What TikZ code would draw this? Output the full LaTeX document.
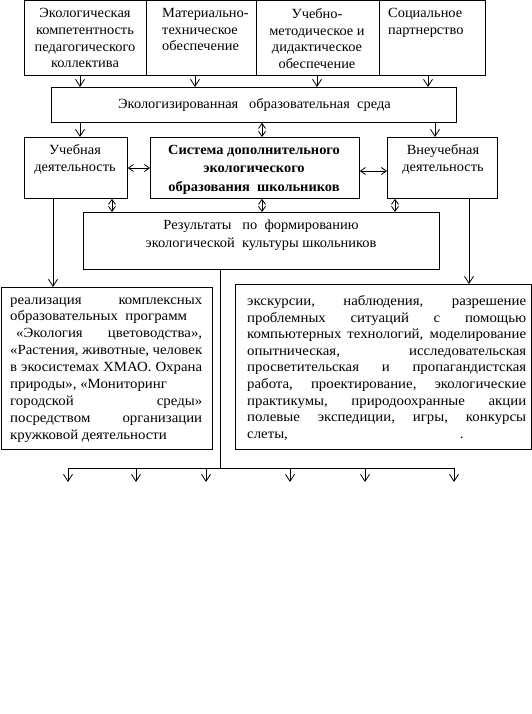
\documentclass[tikz,border=0pt]{standalone}
\usepackage{fontspec}
\setmainfont[FakeStretch=1.03]{Liberation Serif}
\newfontfamily\widefont[FakeStretch=1.06]{Liberation Serif}
\usetikzlibrary{arrows.meta}
\tikzset{
  box/.style={draw, line width=0.8pt, inner sep=0pt, anchor=north west},
  txt/.style={inner sep=0pt, font=\fontsize{14}{16.8}\selectfont},
  bline/.style={inner sep=0pt, anchor=base west, font=\widefont\fontsize{14}{16.8}\selectfont},
  arr/.style={line width=0.8pt, -{Straight Barb[length=7pt,width=9pt,line width=0.8pt]}},
  barr/.style={line width=0.8pt, {Straight Barb[length=5pt,width=7pt,line width=0.8pt]}-{Straight Barb[length=5pt,width=7pt,line width=0.8pt]}},
  ln/.style={line width=0.8pt}
}
\begin{document}
\begin{tikzpicture}[x=1pt,y=-1pt]
\useasboundingbox (0,0) rectangle (532,714);
% top row
\node[box, minimum width=122pt, minimum height=74.5pt] (t1) at (24,0.5) {};
\node[box, minimum width=110pt, minimum height=74.5pt] (t2) at (146,0.5) {};
\node[box, minimum width=123pt, minimum height=74.5pt] (t3) at (256,0.5) {};
\node[box, minimum width=106pt, minimum height=74.5pt] (t4) at (379,0.5) {};
\node[txt, align=center, anchor=north] (t1t) at (85,8) {Экологическая\\компетентность\\педагогического\\коллектива};
\node[txt, align=left, anchor=north west] (t2t) at (162,8) {Материально-\\техническое\\обеспечение};
\node[txt, align=center, anchor=north] (t3t) at (317,8) {Учебно-\\методическое и\\дидактическое\\обеспечение};
\node[txt, align=left, anchor=north west] (t4t) at (388,8) {Социальное\\партнерство};
% environment
\node[box, minimum width=405pt, minimum height=35pt] (env) at (51,87) {};
\node[txt] (envt) at (254.5,105) {Экологизированная \ \ образовательная \ среда};
% row 2
\node[box, minimum width=103pt, minimum height=61pt] (uch) at (24,137) {};
\node[box, minimum width=209pt, minimum height=61pt] (sys) at (150,137) {};
\node[box, minimum width=110pt, minimum height=61pt] (vne) at (387,137) {};
\node[txt, align=center, anchor=north] (ucht) at (75,144) {Учебная\\деятельность};
\node[txt, align=center, anchor=north, font=\fontsize{14}{18.5}\selectfont\bfseries] (syst) at (254,145) {Система дополнительного\\экологического\\образования \ школьников};
\node[txt, align=center, anchor=north] (vnet) at (443,144) {Внеучебная\\деятельность};
% results
\node[box, minimum width=356pt, minimum height=57pt] (rez) at (83,212) {};
\node[txt, align=center, anchor=north, font=\fontsize{14}{18}\selectfont] (rezt) at (261,220) {Результаты \ \ по \ формированию\\экологической \ культуры школьников};
% bottom boxes
\node[box, minimum width=211.5pt, minimum height=162pt] (lb) at (0.5,287) {};
\node[box, minimum width=296pt, minimum height=165pt] (rb) at (235,284) {};
\foreach \l [count=\i] in {%
  {реализация\hfill комплексных},
  {образовательных \ программ\hfill},
  {\hspace*{6pt}«Экология\hfill цветоводства»,},
  {«Растения, животные, человек},
  {в экосистемах ХМАО. Охрана},
  {природы», «Мониторинг\hfill},
  {городской\hfill среды»},
  {посредством\hfill организации},
  {кружковой деятельности\hfill}}{
  \node[bline] (lbl\i) at (10,{304+16.9*(\i-1)}) {\hbox to 192pt{\l}};
}
\foreach \l [count=\i] in {%
  {экскурсии,\hfill наблюдения,\hfill разрешение},
  {проблемных\hfill ситуаций\hfill с\hfill помощью},
  {компьютерных технологий, моделирование},
  {опытническая,\hfill исследовательская},
  {просветительская\hfill и\hfill пропагандистская},
  {работа,\hfill проектирование,\hfill экологические},
  {практикумы,\hfill природоохранные\hfill акции},
  {полевые\hfill экспедиции,\hfill игры,\hfill конкурсы},
  {слеты,\hspace*{172pt}.\hfill}}{
  \node[bline] (rbl\i) at (247,{305.5+16.6*(\i-1)}) {\hbox to 279pt{\l}};
}
% arrows top -> env
\foreach \n/\x in {t1/80,t2/195,t3/317,t4/428}{
  \draw[arr] (\n.south -| \x,0) -- (env.north -| \x,0);
}
% env -> row2
\draw[arr] (env.south -| 80,0) -- (uch.north -| 80,0);
\draw[barr] (env.south -| 262,0) -- (sys.north -| 262,0);
\draw[arr] (env.south -| 435,0) -- (vne.north -| 435,0);
% horizontal
\draw[barr] (uch.east |- 0,168) -- (sys.west |- 0,168);
\draw[barr] (sys.east |- 0,171) -- (vne.west |- 0,171);
% row2 <-> results
\draw[barr] (uch.south -| 112,0) -- (rez.north -| 112,0);
\draw[barr] (sys.south -| 262,0) -- (rez.north -| 262,0);
\draw[barr] (vne.south -| 395,0) -- (rez.north -| 395,0);
% down to bottom boxes
\draw[arr] (uch.south -| 53,0) -- (lb.north -| 53,0);
\draw[arr] (vne.south -| 469,0) -- (rb.north -| 469,0);
% distribution line
\coordinate (j) at (220,468);
\draw[ln] (rez.south -| j) -- (j);
\draw[ln] (68,468) -- (454,468);
\foreach \x [count=\i] in {68,136,206,290,365,454}{
  \coordinate (e\i) at (\x,482);
  \draw[arr] (\x,468) -- (e\i);
}
\end{tikzpicture}
\end{document}
